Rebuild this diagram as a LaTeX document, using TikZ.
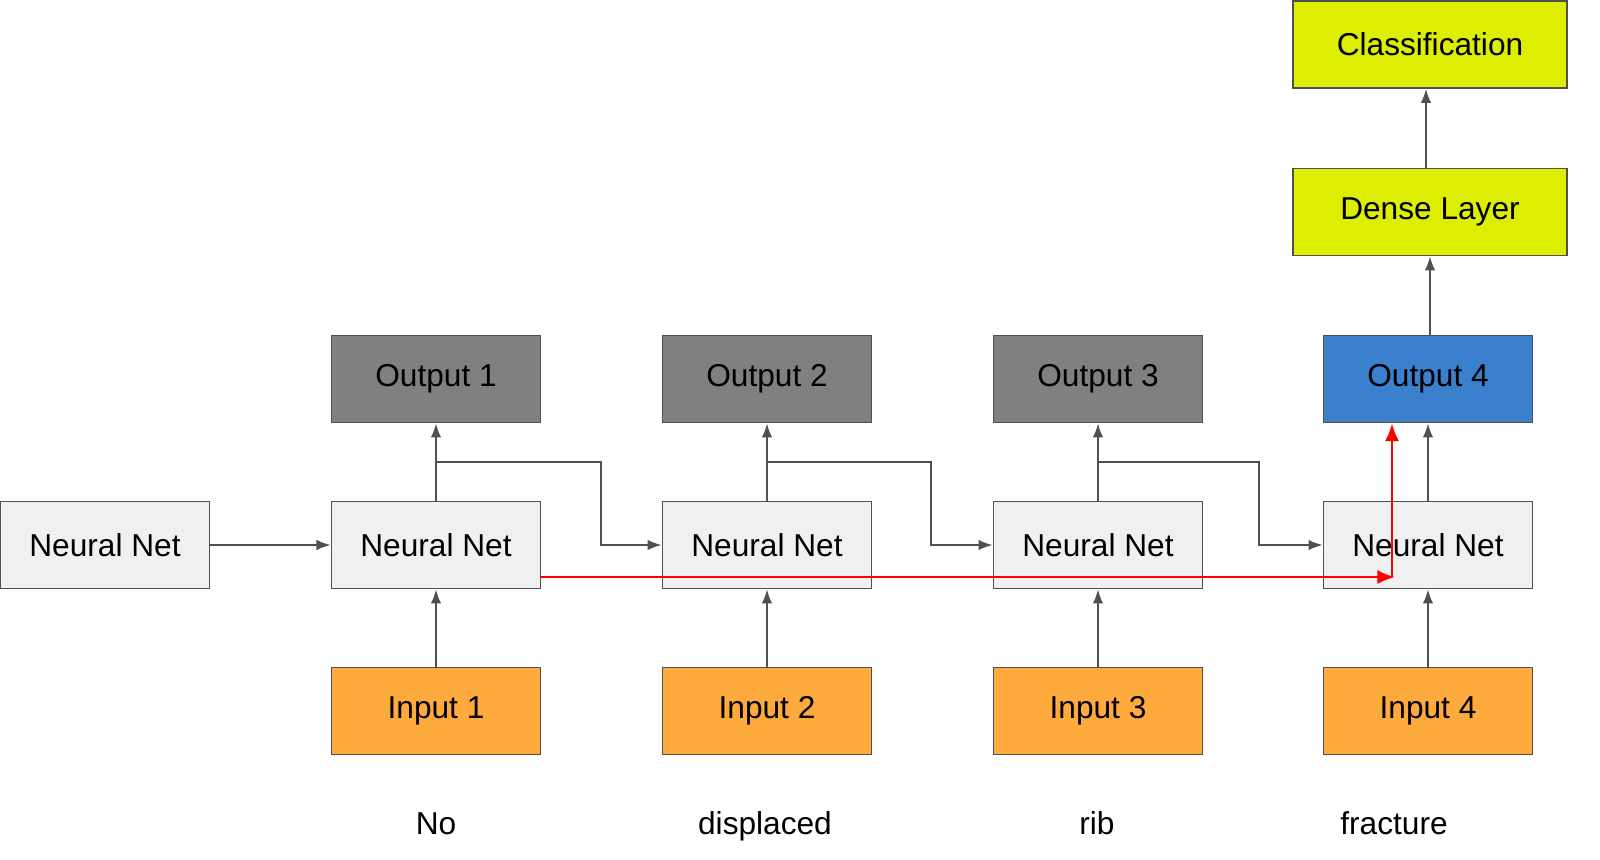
\documentclass[tikz,border=0pt]{standalone}
\usepackage{fontspec}
\setmainfont{Liberation Sans}
\usetikzlibrary{arrows.meta}
\definecolor{og}{HTML}{808080}
\definecolor{nn}{HTML}{F0F0F0}
\definecolor{inp}{HTML}{FFAA3C}
\definecolor{yel}{HTML}{DDEE00}
\definecolor{blu}{HTML}{3A80CC}
\definecolor{ln}{HTML}{505050}
\begin{document}
\begin{tikzpicture}[x=0.01cm,y=-0.01cm,
  box/.style={draw=ln,line width=0.5pt,minimum width=2.09cm,minimum height=0.87cm,inner sep=0pt,font=\fontsize{9}{11}\selectfont},
  wide/.style={box,minimum width=2.74cm},
  conn/.style={draw=ln,line width=0.5pt,-{Latex[length=4pt,width=3pt]}},
  red/.style={draw=red,line width=0.7pt,-{Latex[length=5pt,width=4pt]}},
  word/.style={font=\fontsize{9}{11}\selectfont,anchor=base}]
\node[box,fill=nn] (n0) at (105,545) {Neural Net};
\foreach \i/\x in {1/436,2/767,3/1098,4/1428}{
  \node[box,fill=nn] (n\i) at (\x,545) {Neural Net};
  \node[box,fill=inp] (i\i) at (\x,711) {Input \i};
  \draw[conn] (i\i) -- (n\i);
}
\foreach \i/\x in {1/436,2/767,3/1098}{
  \node[box,fill=og] (o\i) at (\x,379) {Output \i};
  \draw[conn] (n\i) -- (o\i);
}
\node[box,fill=blu] (o4) at (1428,379) {Output 4};
\draw[conn] (n4) -- (o4);
\node[wide,fill=yel] (d) at (1430,212) {Dense Layer};
\node[wide,fill=yel] (c) at (1430,44.5) {Classification};
\draw[conn] (o4.north -| 1430,0) -- (d.south -| 1430,0);
\draw[conn] (d.north -| 1426,0) -- (c.south -| 1426,0);
\draw[conn] (n0) -- (n1);
\coordinate (b1) at (436,462);
\coordinate (b2) at (767,462);
\coordinate (b3) at (1098,462);
\draw[conn] (b1) -- (601,462) |- (n2.west);
\draw[conn] (b2) -- (931,462) |- (n3.west);
\draw[conn] (b3) -- (1259,462) |- (n4.west);
\coordinate (rs) at (n1.east |- 0,577);
\coordinate (re) at (1395,577);
\coordinate (ru) at (1392,577);
\draw[red] (rs) -- (re);
\draw[red] (ru) -- (o4.south -| ru);
\node[word] (w1) at (436,834) {No};
\node[word] (w2) at (765,834) {displaced};
\node[word] (w3) at (1097,834) {rib};
\node[word] (w4) at (1394,834) {fracture};
\pgfresetboundingbox
\path[use as bounding box] (0,0) rectangle (1600,859);
\end{tikzpicture}
\end{document}
